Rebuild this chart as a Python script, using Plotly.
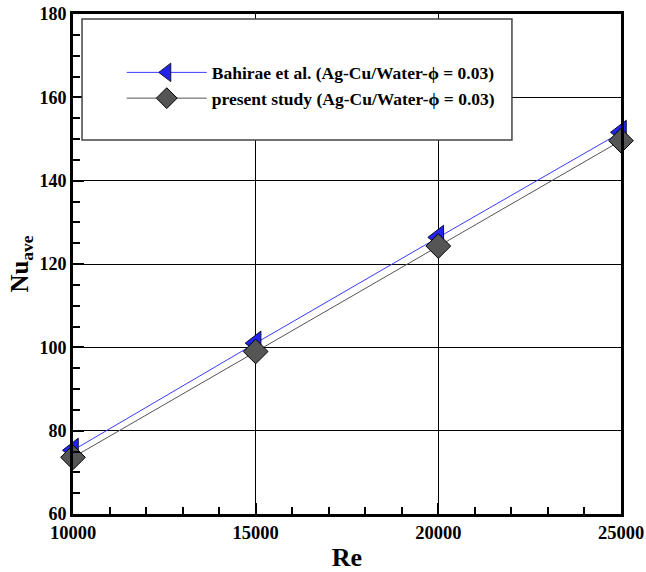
import plotly.graph_objects as go

re_vals = [10000, 15000, 20000, 25000]
nu_bahirae = [75.3, 101.0, 126.4, 151.6]
nu_present = [73.6, 99.0, 124.3, 149.6]
series_names = ["Bahirae et al. (Ag-Cu/Water-ϕ = 0.03)",
                "present study (Ag-Cu/Water-ϕ = 0.03)"]
x_ticks = [10000, 15000, 20000, 25000]
y_ticks = [60, 80, 100, 120, 140, 160, 180]

FONT = "Liberation Serif, Times New Roman, serif"

fig = go.Figure()
fig.add_trace(go.Scatter(
    x=re_vals, y=nu_bahirae, mode="lines+markers", name=series_names[0],
    line=dict(color="#3a3aff", width=1),
    marker=dict(symbol="triangle-left", size=21, color="#2323ee",
                line=dict(color="#111133", width=1)),
    cliponaxis=False))
fig.add_trace(go.Scatter(
    x=re_vals, y=nu_present, mode="lines+markers", name=series_names[1],
    line=dict(color="#555555", width=1),
    marker=dict(symbol="diamond", size=19, color="#555555",
                line=dict(color="#000000", width=1)),
    cliponaxis=False))

axis_common = dict(
    showline=True, linewidth=3, linecolor="black", mirror=True,
    showgrid=True, gridcolor="black", gridwidth=1,
    ticks="inside", ticklen=11, tickwidth=2, tickcolor="black",
    zeroline=False, layer="above traces", automargin=False,
)

fig.update_xaxes(
    range=[10000, 25000], tickvals=x_ticks, ticktext=[str(v) for v in x_ticks],
    tickfont=dict(family=FONT, size=18.5, color="black", weight="bold"),
    minor=dict(dtick=1000, ticklen=7, tickwidth=1.5, tickcolor="black",
               ticks="inside", showgrid=False),
    title=dict(text="<b>Re</b>", font=dict(family=FONT, size=26, color="black"),
               standoff=10),
    **axis_common)
fig.update_yaxes(
    range=[60, 180], tickvals=y_ticks, ticktext=[str(v) for v in y_ticks],
    tickfont=dict(family=FONT, size=18, color="black", weight="bold"),
    minor=dict(dtick=5, ticklen=7, tickwidth=1.5, tickcolor="black",
               ticks="inside", showgrid=False),
    title=dict(text="<b>Nu<sub>ave</sub></b>",
               font=dict(family=FONT, size=25, color="black"), standoff=4),
    **axis_common)

fig.add_shape(type="rect", xref="paper", yref="paper",
              x0=0.0165, x1=0.801, y0=0.748, y1=0.99,
              line=dict(color="#444444", width=1.5), fillcolor="white",
              layer="above")

fig.update_layout(
    width=646, height=572,
    margin=dict(l=73, r=25, t=14, b=58),
    plot_bgcolor="white", paper_bgcolor="white",
    showlegend=True,
    legend=dict(x=0.089, y=0.857, xanchor="left", yanchor="middle",
                bgcolor="rgba(0,0,0,0)", borderwidth=0,
                itemwidth=80, tracegroupgap=0,
                font=dict(family=FONT, size=17.5, color="black", weight="bold")),
)

fig.write_html(
    "out.html",
    config={"displayModeBar": False},
    post_script="document.body.style.margin='0';document.body.style.padding='0';",
)
